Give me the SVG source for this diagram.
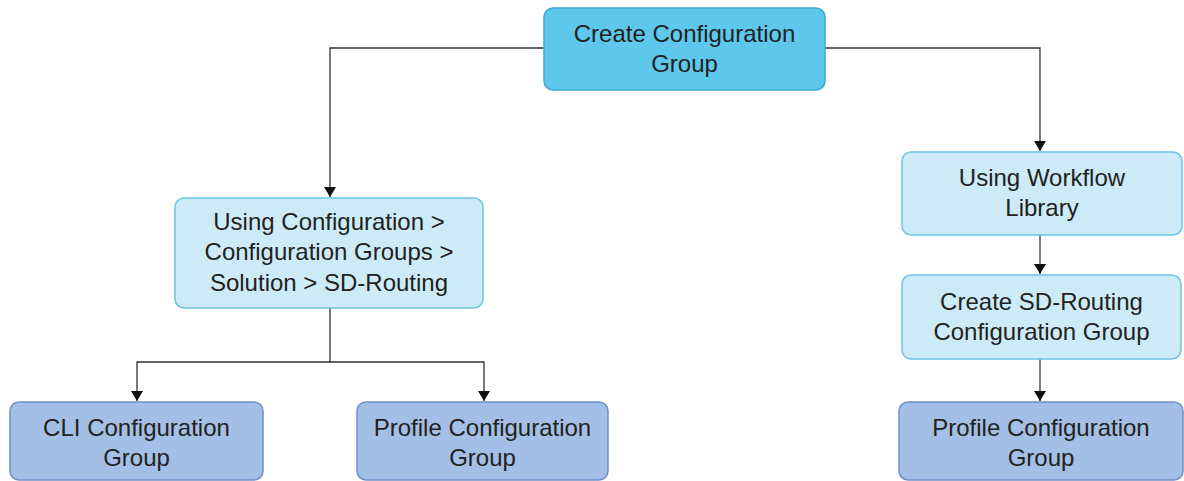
<svg xmlns="http://www.w3.org/2000/svg" width="1184" height="481" viewBox="0 0 1184 481">
<style>
.box{stroke-width:1.5}
.top{fill:#5ec8ec;stroke:#3aa9d6}
.light{fill:#cdebf7;stroke:#6cc4e6}
.dark{fill:#a4bfe5;stroke:#6f90c8}
text{font-family:"Liberation Sans",Arial,sans-serif;font-size:24px;fill:#222;text-anchor:middle}
.conn{fill:none;stroke:#333;stroke-width:1.3}
</style>
<defs>
<marker id="arr" viewBox="0 0 10 12" refX="10" refY="6" markerWidth="11" markerHeight="12" markerUnits="userSpaceOnUse" orient="auto">
<path d="M0,0 L10,6 L0,12 Z" fill="#111"/>
</marker>
</defs>
<rect width="1184" height="481" fill="#fff"/>
<g id="connectors">
<path class="conn" d="M544,48 H330 V197" marker-end="url(#arr)"/>
<path class="conn" d="M825,48 H1040 V151" marker-end="url(#arr)"/>
<path class="conn" d="M1040,235 V274" marker-end="url(#arr)"/>
<path class="conn" d="M1040,359 V401" marker-end="url(#arr)"/>
<path class="conn" d="M330,308 V362 H137 V401" marker-end="url(#arr)"/>
<path class="conn" d="M330,362 H484 V401" marker-end="url(#arr)"/>
</g>
<g id="n-create">
<rect class="box top" x="544" y="8" width="281" height="82" rx="9"/>
<text x="684.5" y="42">Create Configuration</text>
<text x="684.5" y="72">Group</text>
</g>
<g id="n-using-config">
<rect class="box light" x="175" y="198" width="308" height="110" rx="9"/>
<text x="329" y="230">Using Configuration &gt;</text>
<text x="329" y="260">Configuration Groups &gt;</text>
<text x="329" y="291">Solution &gt; SD-Routing</text>
</g>
<g id="n-workflow">
<rect class="box light" x="902" y="152" width="280" height="83" rx="9"/>
<text x="1042" y="186">Using Workflow</text>
<text x="1042" y="216">Library</text>
</g>
<g id="n-create-sd">
<rect class="box light" x="902" y="275" width="279" height="84" rx="9"/>
<text x="1041.5" y="310">Create SD-Routing</text>
<text x="1041.5" y="340">Configuration Group</text>
</g>
<g id="n-cli">
<rect class="box dark" x="10" y="402" width="253" height="78" rx="9"/>
<text x="136.5" y="436">CLI Configuration</text>
<text x="136.5" y="466">Group</text>
</g>
<g id="n-profile-left">
<rect class="box dark" x="357" y="402" width="251" height="78" rx="9"/>
<text x="482.5" y="436">Profile Configuration</text>
<text x="482.5" y="466">Group</text>
</g>
<g id="n-profile-right">
<rect class="box dark" x="899" y="402" width="284" height="78" rx="9"/>
<text x="1041" y="436">Profile Configuration</text>
<text x="1041" y="466">Group</text>
</g>
</svg>
